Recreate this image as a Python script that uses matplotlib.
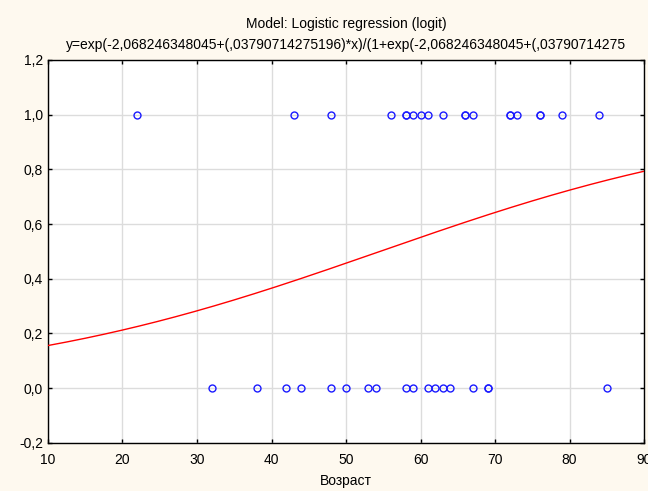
import numpy as np
import matplotlib.pyplot as plt
from matplotlib.ticker import FuncFormatter

# Возраст пациентов, исход 1 / 0
vozrast_1 = [22, 43, 48, 56, 58, 58, 59, 60, 61, 63, 66, 66, 67, 72, 72, 73, 76, 76, 79, 84]
vozrast_0 = [32, 38, 42, 44, 48, 50, 53, 54, 58, 59, 61, 62, 63, 64, 67, 69, 69, 85]

# коэффициенты логит-модели
b0 = -2.068246348045
b1 = 0.03790714275196

titulo = ("Model: Logistic regression (logit)\n"
          "y=exp(-2,068246348045+(,03790714275196)*x)/(1+exp(-2,068246348045+(,03790714275")

plt.rcParams['font.family'] = ['Liberation Sans', 'DejaVu Sans']

fig = plt.figure(figsize=(6.48, 4.91), dpi=100, facecolor='#fef9ef')
ax = fig.add_axes([0.074, 0.098, 0.920, 0.780])
ax.set_facecolor('white')

x = np.linspace(10, 90, 400)
z = b0 + b1 * x
ax.plot(x, np.exp(z) / (1 + np.exp(z)), color='#ff0000', lw=1.0, zorder=3)

ax.plot(vozrast_1, np.ones(len(vozrast_1)), 'o', mfc='none', mec='#1a1aff',
        ms=5, mew=1.0, zorder=4)
ax.plot(vozrast_0, np.zeros(len(vozrast_0)), 'o', mfc='none', mec='#1a1aff',
        ms=5, mew=1.0, zorder=4)

ax.set_xlim(10, 90)
ax.set_ylim(-0.2, 1.2)
ax.set_xticks(np.arange(10, 91, 10))
ax.set_yticks(np.arange(-0.2, 1.21, 0.2))
ax.yaxis.set_major_formatter(FuncFormatter(lambda v, p: ('%.1f' % v).replace('.', ',').replace('-0,0', '0,0')))
ax.grid(True, color='#dcdcdc', lw=1.0)
ax.set_axisbelow(True)
ax.tick_params(direction='in', length=3, width=1, top=True, right=True,
               labelsize=10, colors='black')
ax.tick_params(axis='x', pad=7)
for s in ax.spines.values():
    s.set_color('black')
    s.set_linewidth(1.0)

ax.set_xlabel('Возраст', fontsize=10, labelpad=5)
ax.set_title(titulo, fontsize=10, linespacing=1.6, pad=8)

plt.savefig('out.png', dpi=100, facecolor=fig.get_facecolor())
